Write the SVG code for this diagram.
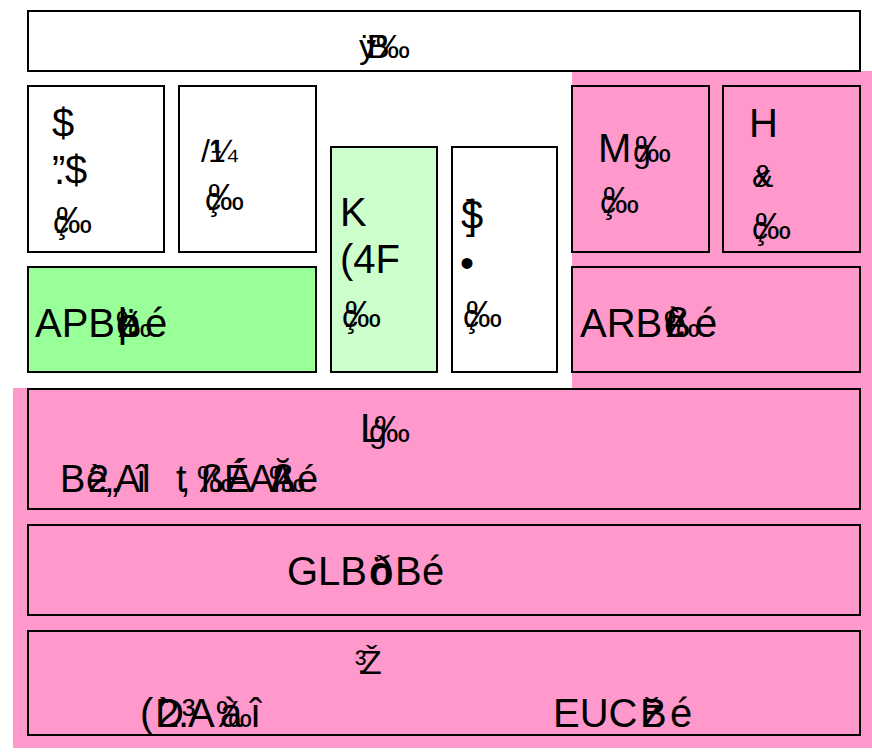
<svg xmlns="http://www.w3.org/2000/svg" width="872" height="756" viewBox="0 0 872 756">
<style>
.b{stroke:#000;stroke-width:2}
.w{fill:#fff}
.p{fill:#ff99cc}
.g1{fill:#99ff99}
.g2{fill:#ccffcc}
text{font-family:"Liberation Sans",Arial,sans-serif;fill:#000;font-size:40px}
.s{font-size:32px}
.k{font-size:36px}
.t{font-size:34px}
.m{font-size:38px}
</style>
<rect x="0" y="0" width="872" height="756" fill="#fff"/>
<path d="M572,71 H872 V748 H13 V388 H572 Z" fill="#ff99cc"/>
<g id="connectors"></g>
<g id="title">
<rect class="b w" x="28" y="11" width="832" height="60"/>
<text class="t" y="58"><tspan x="359">ÿ</tspan><tspan x="364">:</tspan><tspan x="367">B</tspan><tspan x="376">‰</tspan></text>
</g>
<g id="box1">
<rect class="b w" x="28" y="86" width="136" height="166"/>
<text x="52" y="137">$</text>
<text y="184"><tspan x="52">”</tspan><tspan x="54">.</tspan><tspan x="65">$</tspan></text>
<text class="s" y="233"><tspan x="53">ç</tspan><tspan x="54">.</tspan><tspan class="k" x="56">‰</tspan></text>
</g>
<g id="box2">
<rect class="b w" x="179" y="86" width="137" height="166"/>
<text class="s" y="162"><tspan x="201">/</tspan><tspan x="208">1</tspan><tspan x="211">¼</tspan></text>
<text class="s" y="210"><tspan x="205">ç</tspan><tspan x="206">.</tspan><tspan class="k" x="208">‰</tspan></text>
</g>
<g id="box3">
<rect class="b g2" x="331" y="147" width="106" height="225"/>
<text x="340" y="226">K</text>
<text x="340" y="273">(4F</text>
<text class="s" y="327"><tspan x="342">ç</tspan><tspan x="343">.</tspan><tspan class="k" x="345">‰</tspan></text>
</g>
<g id="box4">
<rect class="b w" x="452" y="147" width="105" height="225"/>
<text y="229"><tspan x="461">$</tspan><tspan x="466">]</tspan></text>
<text x="460" y="277">•</text>
<text class="s" y="327"><tspan x="463">ç</tspan><tspan x="464">.</tspan><tspan class="k" x="466">‰</tspan></text>
</g>
<g id="box5">
<rect class="b p" x="572" y="86" width="137" height="166"/>
<text y="162"><tspan x="598">M</tspan><tspan class="s" x="633">g</tspan><tspan class="k" x="635">‰</tspan></text>
<text class="s" y="213"><tspan x="600">ç</tspan><tspan x="601">.</tspan><tspan class="k" x="603">‰</tspan></text>
</g>
<g id="box6">
<rect class="b p" x="723" y="86" width="137" height="166"/>
<text x="749" y="137">H</text>
<text class="s" y="187"><tspan x="752">&amp;</tspan><tspan x="755">x</tspan></text>
<text class="s" y="239"><tspan x="752">ç</tspan><tspan x="753">.</tspan><tspan class="k" x="755">‰</tspan></text>
</g>
<g id="apb">
<rect class="b g1" x="28" y="267" width="288" height="105"/>
<text y="337"><tspan x="35">APB</tspan><tspan x="116">ë</tspan><tspan x="118">þ</tspan><tspan class="k" x="116">‰</tspan><tspan x="145">é</tspan></text>
</g>
<g id="arb">
<rect class="b p" x="572" y="267" width="288" height="105"/>
<text y="337"><tspan x="580">ARB</tspan><tspan x="664">è</tspan><tspan x="666">ß</tspan><tspan class="k" x="664">‰</tspan><tspan x="695">é</tspan></text>
</g>
<g id="layer1">
<rect class="b p" x="28" y="389" width="832" height="120"/>
<text y="442"><tspan x="360">L</tspan><tspan class="s" x="369">ģ</tspan><tspan class="k" x="374">‰</tspan></text>
<text class="m" y="492"><tspan x="60">B</tspan><tspan x="86">è</tspan><tspan x="88">2</tspan><tspan x="106">„</tspan><tspan x="115">A</tspan><tspan x="136">î</tspan><tspan x="142">l</tspan><tspan x="176">t</tspan><tspan x="181">‚</tspan><tspan class="k" x="197">‰</tspan><tspan x="201">ß</tspan><tspan x="224">É</tspan><tspan x="227">Á</tspan><tspan x="249">A</tspan><tspan x="270">Ă</tspan><tspan x="272">ß</tspan><tspan class="k" x="269">‰</tspan><tspan x="297">é</tspan></text>
</g>
<g id="layer2">
<rect class="b p" x="28" y="525" width="832" height="90"/>
<text y="585"><tspan x="287">GLB</tspan><tspan x="369">ö</tspan><tspan x="371">ð</tspan><tspan x="395">B</tspan><tspan x="422">é</tspan></text>
</g>
<g id="layer3">
<rect class="b p" x="28" y="631" width="832" height="104"/>
<text class="t" y="674"><tspan x="355">³</tspan><tspan x="357">.</tspan><tspan x="361">Ž</tspan></text>
<text y="727"><tspan x="140">(</tspan><tspan x="155">D</tspan><tspan x="157">2</tspan><tspan x="158">`</tspan><tspan x="178">.</tspan><tspan x="182">³</tspan><tspan x="188">A</tspan><tspan class="k" x="216">‰</tspan><tspan x="220">à</tspan><tspan x="250">î</tspan></text>
<text y="727"><tspan x="553">EUC</tspan><tspan x="640">B</tspan><tspan x="642">ž</tspan><tspan x="670">é</tspan></text>
</g>
</svg>
